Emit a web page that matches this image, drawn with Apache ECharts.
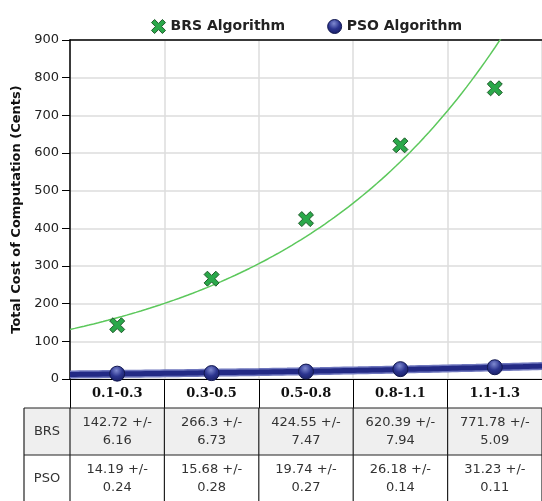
<!DOCTYPE html>
<html><head><meta charset="utf-8">
<script src="https://cdn.jsdelivr.net/npm/echarts@6/dist/echarts.min.js"></script>
<style>html,body{margin:0;padding:0;background:#fff}#c{width:542px;height:501px}</style>
</head><body><div id="c"></div>
<script>
// ---- data ----
const categories = ['0.1-0.3', '0.3-0.5', '0.5-0.8', '0.8-1.1', '1.1-1.3'];
const brsMean = [142.72, 266.3, 424.55, 620.39, 771.78];
const brsErr  = [6.16, 6.73, 7.47, 7.94, 5.09];
const psoMean = [14.19, 15.68, 19.74, 26.18, 31.23];
const psoErr  = [0.24, 0.28, 0.27, 0.14, 0.11];
const seriesNames = ['BRS Algorithm', 'PSO Algorithm'];
const rowLabels = ['BRS', 'PSO'];
const yTicks = [0, 100, 200, 300, 400, 500, 600, 700, 800, 900];

// exponential trendline (least squares on ln y), as in the original chart
function expFit(ys) {
  const n = ys.length; let sx = 0, sy = 0, sxx = 0, sxy = 0;
  ys.forEach((y, i) => { const x = i + 1, ly = Math.log(y); sx += x; sy += ly; sxx += x * x; sxy += x * ly; });
  const b = (n * sxy - sx * sy) / (n * sxx - sx * sx);
  const a = Math.exp((sy - b * sx) / n);
  return { a, b };
}
function trend(ys) {
  const f = expFit(ys); const pts = [];
  for (let k = 0; k <= 100; k++) { const x = -0.5 + k * 0.05; pts.push([x, f.a * Math.exp(f.b * (x + 1))]); }
  return pts;
}

const crossPath = 'path://M2.2,0 L5,2.8 L7.8,0 L10,2.2 L7.2,5 L10,7.8 L7.8,10 L5,7.2 L2.2,10 L0,7.8 L2.8,5 L0,2.2 Z';
const psoFill = new echarts.graphic.RadialGradient(0.45, 0.3, 0.75, [
  { offset: 0, color: '#7f8ad0' }, { offset: 0.5, color: '#2c3590' }, { offset: 1, color: '#161c5e' }]);

const chart = echarts.init(document.getElementById('c'), null, { renderer: 'canvas' });
const FONT = 'DejaVu Sans';

chart.setOption({
  animation: false,
  backgroundColor: '#fff',
  grid: { left: 70, right: 0, top: 40, bottom: 122, containLabel: false },
  legend: {
    left: 146, top: 14, itemWidth: 14, itemHeight: 14, itemGap: 42,
    textStyle: { fontFamily: FONT, fontWeight: 'bold', fontSize: 14, color: '#222' },
    data: [
      { name: seriesNames[0], icon: crossPath, itemStyle: { color: '#2aa84a', borderColor: '#1f5a2a', borderWidth: 1 } },
      { name: seriesNames[1], icon: 'circle', itemStyle: { color: psoFill, borderColor: '#121850', borderWidth: 1 } }
    ]
  },
  xAxis: [
    {
      type: 'category', data: categories, boundaryGap: true, position: 'bottom',
      axisLine: { show: true, onZero: false, lineStyle: { color: '#000', width: 1 } },
      axisTick: { show: true, length: 29, lineStyle: { color: '#000', width: 1 } },
      axisLabel: { margin: 8, fontFamily: 'DejaVu Serif', fontWeight: 'bold', fontSize: 13, color: '#111' },
      splitLine: { show: true, lineStyle: { color: '#dcdcdc', width: 1.5 } }
    },
    {
      type: 'value', min: -0.5, max: 4.5, position: 'top',
      axisLine: { show: true, onZero: false, lineStyle: { color: '#000', width: 1.5 } },
      axisTick: { show: false }, axisLabel: { show: false }, splitLine: { show: false }
    }
  ],
  yAxis: {
    type: 'value', min: yTicks[0], max: yTicks[yTicks.length - 1], interval: 100, position: 'left',
    name: 'Total Cost of Computation (Cents)', nameLocation: 'middle', nameGap: 47,
    nameTextStyle: { fontFamily: FONT, fontWeight: 'bold', fontSize: 13, color: '#111' },
    axisLine: { show: true, onZero: false, lineStyle: { color: '#000', width: 1.5 } },
    axisTick: { show: true, length: 8, lineStyle: { color: '#000' } },
    axisLabel: { margin: 11, fontFamily: FONT, fontSize: 13, color: '#222' },
    splitLine: { show: true, lineStyle: { color: '#dcdcdc', width: 1.5 } }
  },
  series: [
    {
      name: 'BRS trend', type: 'line', xAxisIndex: 1, data: trend(brsMean), showSymbol: false, silent: true,
      lineStyle: { color: '#5cc85c', width: 1.5 }, z: 2
    },
    {
      name: 'PSO trend halo', type: 'line', xAxisIndex: 1, data: trend(psoMean), showSymbol: false, silent: true,
      lineStyle: { color: '#6e76bd', width: 8 }, z: 2
    },
    {
      name: 'PSO trend', type: 'line', xAxisIndex: 1, data: trend(psoMean), showSymbol: false, silent: true,
      lineStyle: { color: '#232a85', width: 5 }, z: 3
    },
    {
      name: seriesNames[0], type: 'scatter', xAxisIndex: 0, data: brsMean, symbol: crossPath, symbolSize: 15,
      itemStyle: { color: '#2aa84a', borderColor: '#1f5a2a', borderWidth: 1, opacity: 1 }, z: 5
    },
    {
      name: seriesNames[1], type: 'scatter', xAxisIndex: 0, data: psoMean, symbol: 'circle', symbolSize: 15,
      itemStyle: { color: psoFill, borderColor: '#121850', borderWidth: 1, opacity: 1 }, z: 5
    }
  ]
});

// ---- data table under the axis ----
const bx = i => chart.convertToPixel({ xAxisIndex: 1 }, i - 0.5);
const y0 = chart.convertToPixel({ yAxisIndex: 0 }, 0);
const labelRowH = 29, rowH = 47, headerLeft = 24;
const tTop = y0 + labelRowH;
const tBottom = 501;
const right = bx(categories.length);
const g = [];
g.push({ type: 'rect', shape: { x: headerLeft, y: tTop, width: right - headerLeft, height: rowH }, style: { fill: '#efefef' }, z: 1 });
const line = (x1, y1, x2, y2) => ({ type: 'line', shape: { x1, y1, x2, y2 }, style: { stroke: '#222', lineWidth: 1.2 }, z: 2 });
g.push(line(headerLeft, tTop, right, tTop));
g.push(line(headerLeft, tTop + rowH, right, tTop + rowH));
g.push(line(headerLeft, tTop, headerLeft, tBottom));
for (let i = 0; i <= categories.length; i++) g.push(line(bx(i), tTop, bx(i), tBottom));
const rows = [[brsMean, brsErr], [psoMean, psoErr]];
rows.forEach((r, ri) => {
  const cy = tTop + rowH * ri + rowH / 2;
  g.push({ type: 'text', x: (headerLeft + bx(0)) / 2, y: cy, style: { text: rowLabels[ri], align: 'center', verticalAlign: 'middle', font: '13px "DejaVu Sans"', fill: '#333' }, z: 3 });
  categories.forEach((c, ci) => {
    g.push({ type: 'text', x: (bx(ci) + bx(ci + 1)) / 2, y: cy,
      style: { text: r[0][ci] + ' +/-\n' + r[1][ci], align: 'center', verticalAlign: 'middle', font: '13px "DejaVu Sans"', lineHeight: 18, fill: '#333' }, z: 3 });
  });
});
chart.setOption({ graphic: g });
</script></body></html>
